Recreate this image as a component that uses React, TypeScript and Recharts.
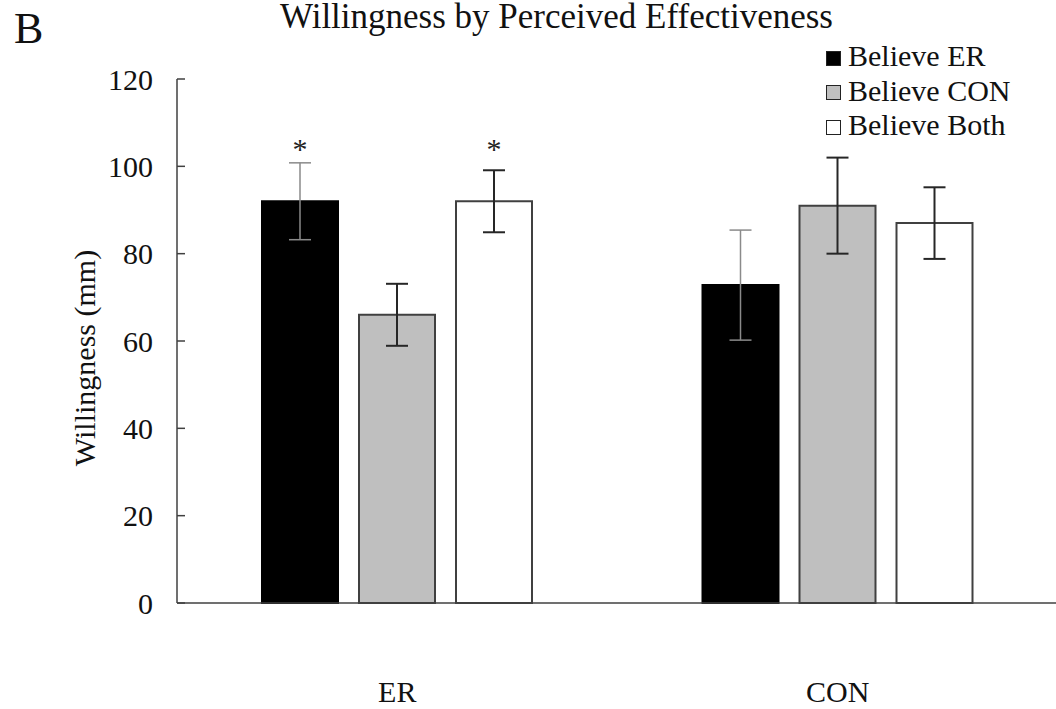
import React from 'react';
import {
  BarChart, Bar, XAxis, YAxis, ErrorBar, Legend, LabelList
} from 'recharts';

const categories = ['ER', 'CON'];

const believeER = [92, 72.8];
const believeERErr = [8.8, 12.6];
const believeERSig = ['*', ''];

const believeCON = [66, 91];
const believeCONErr = [7.1, 11];
const believeCONSig = ['', ''];

const believeBoth = [92, 87];
const believeBothErr = [7.1, 8.2];
const believeBothSig = ['*', ''];

const yTicks = [0, 20, 40, 60, 80, 100, 120];

const data = categories.map((name, i) => ({
  name,
  er: believeER[i], erErr: believeERErr[i], erSig: believeERSig[i],
  con: believeCON[i], conErr: believeCONErr[i], conSig: believeCONSig[i],
  both: believeBoth[i], bothErr: believeBothErr[i], bothSig: believeBothSig[i],
}));

const series = [
  { key: 'er', name: 'Believe ER', fill: '#000000', stroke: '#000000', errStroke: '#8a8a8a', errWidth: 1.5 },
  { key: 'con', name: 'Believe CON', fill: '#bfbfbf', stroke: '#404040', errStroke: '#262626', errWidth: 2 },
  { key: 'both', name: 'Believe Both', fill: '#ffffff', stroke: '#404040', errStroke: '#262626', errWidth: 2 },
];

const FONT = '"Liberation Serif", "Times New Roman", serif';

const YTick = (props: any) => {
  const { x, y, payload } = props;
  return (
    <g>
      <line x1={x} x2={x + 8} y1={y} y2={y} stroke="#404040" strokeWidth={1.5} />
      <text x={x - 24} y={y} dy="0.35em" textAnchor="end" fontSize={30} fontFamily={FONT} fill="#111">
        {payload.value}
      </text>
    </g>
  );
};

const Star = (props: any) => {
  const { x, y, width, value } = props;
  if (!value) return null;
  return (
    <text x={x + width / 2} y={y - 42} textAnchor="middle" fontSize={30} fontFamily={FONT} fill="#222">
      {value}
    </text>
  );
};

const LegendBox = () => (
  <div style={{ fontFamily: FONT, fontSize: 30, color: '#111' }}>
    {series.map(s => (
      <div key={s.key} style={{ display: 'flex', alignItems: 'center', height: 34.5, lineHeight: '34.5px' }}>
        <span style={{
          display: 'inline-block', width: 13, height: 13, background: s.fill,
          border: '1px solid #222', marginRight: 7, marginTop: 4
        }} />
        <span>{s.name}</span>
      </div>
    ))}
  </div>
);

const App = () => {
  return (
    <div style={{
      position: 'absolute', left: 0, top: 0, width: 1056, height: 709,
      overflow: 'hidden', background: '#fff', fontFamily: FONT
    }}>
      <div style={{ position: 'absolute', left: 14, top: 3, fontSize: 44, lineHeight: 'normal', color: '#111' }}>B</div>
      <div style={{
        position: 'absolute', left: 0, top: 3, width: 1113, textAlign: 'center',
        fontSize: 35, lineHeight: '28px', color: '#111'
      }}>
        Willingness by Perceived Effectiveness
      </div>
      <BarChart
        width={1058}
        height={709}
        data={data}
        margin={{ top: 79, right: 0, left: 0, bottom: 76 }}
        barSize={76}
        barGap={21}
      >
        <XAxis
          dataKey="name"
          stroke="#404040"
          strokeWidth={1.5}
          tickLine={false}
          tickSize={0}
          tickMargin={78}
          tick={{ fontSize: 30, fontFamily: FONT, fill: '#111' }}
        />
        <YAxis
          width={177}
          domain={[0, 120]}
          ticks={yTicks}
          interval={0}
          stroke="#404040"
          strokeWidth={1.5}
          tickLine={false}
          tickSize={0}
          tickMargin={0}
          tick={<YTick />}
          label={{
            content: () => (
              <text
                x={84} y={358} transform="rotate(-90 84 358)"
                textAnchor="middle" dominantBaseline="central"
                fontSize={30} fontFamily={FONT} fill="#111"
              >
                Willingness (mm)
              </text>
            )
          }}
        />
        <Legend
          layout="vertical"
          align="center"
          verticalAlign="middle"
          wrapperStyle={{ top: 39, left: 826, width: 230 }}
          content={() => <LegendBox />}
        />
        {series.map(s => (
          <Bar
            key={s.key}
            dataKey={s.key}
            name={s.name}
            fill={s.fill}
            stroke={s.stroke}
            strokeWidth={2}
            isAnimationActive={false}
          >
            <ErrorBar
              dataKey={`${s.key}Err`}
              width={11}
              stroke={s.errStroke}
              strokeWidth={s.errWidth}
              isAnimationActive={false}
            />
            <LabelList dataKey={`${s.key}Sig`} content={<Star />} />
          </Bar>
        ))}
      </BarChart>
    </div>
  );
};

export default App;
